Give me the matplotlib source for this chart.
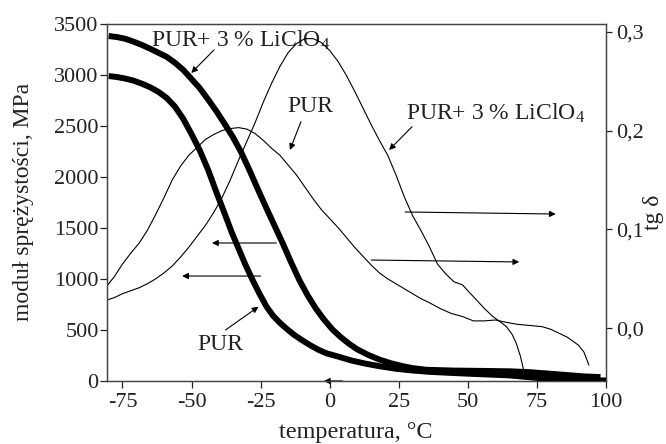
import matplotlib
matplotlib.use("Agg")
import matplotlib.pyplot as plt
from matplotlib.ticker import FuncFormatter, FixedLocator

plt.rcParams['font.family'] = ['Liberation Serif', 'DejaVu Serif']
plt.rcParams['mathtext.fontset'] = 'custom'
plt.rcParams['mathtext.rm'] = 'Liberation Serif'
plt.rcParams['mathtext.it'] = 'Liberation Serif:italic'

# ---- modulus data (left axis, MPa) ----
t_mod_pur = [-80, -77, -74, -71, -68, -65, -62, -59, -56, -53, -50, -47, -44, -41, -38, -35.5,
             -33, -30.5, -28, -25.5, -23, -20.5, -18, -15.5, -13, -10, -7, -4, -1, 3, 8, 13,
             18, 24, 30, 36, 45, 55, 65, 72, 80, 90, 100]
e_mod_pur = [2990, 2980, 2965, 2945, 2915, 2880, 2835, 2775, 2690, 2570, 2420, 2260, 2070, 1850, 1640, 1460,
             1300, 1140, 995, 860, 735, 640, 570, 510, 455, 400, 350, 305, 270, 240, 200, 170,
             145, 120, 103, 90, 78, 66, 55, 38, 18, 10, 5]

t_mod_li = [-80, -77, -74, -71, -68, -65, -62, -59, -56, -53, -50, -47, -44, -41, -38, -35,
            -32, -29, -26, -23, -20, -17, -14, -11, -8, -5, -2, 1, 4, 7, 10, 14, 18, 22,
            26, 30, 35, 45, 55, 65, 72, 78, 85, 92, 98]
e_mod_li = [3382, 3372, 3355, 3327, 3295, 3258, 3218, 3178, 3120, 3050, 2960, 2870, 2760, 2645, 2520, 2390,
            2240, 2065, 1880, 1700, 1525, 1350, 1165, 990, 840, 710, 600, 505, 430, 365, 310, 255, 210, 175,
            148, 126, 110, 102, 99, 95, 87, 75, 60, 45, 38]

# ---- tg delta data (right axis) ----
t_tan_pur = [-80.6, -78, -75, -72, -69, -66, -63, -60, -57, -54, -51, -48, -45, -42, -39, -36,
             -33, -30, -27, -24, -21, -18, -15, -12, -9, -6, -3, 0, 3, 6, 9, 12, 15, 18, 21,
             24, 27, 30, 33, 36, 40, 44, 48, 52, 56, 60, 64, 68, 72, 77, 80, 83, 86, 88, 90,
             92, 93.8]
v_tan_pur = [0.043, 0.052, 0.065, 0.076, 0.086, 0.099, 0.115, 0.132, 0.150, 0.164, 0.175, 0.183, 0.191, 0.196, 0.200, 0.202,
             0.203, 0.2015, 0.197, 0.190, 0.182, 0.175, 0.165, 0.155, 0.143, 0.131, 0.120, 0.111, 0.102, 0.092, 0.082, 0.073, 0.064, 0.056, 0.050,
             0.045, 0.040, 0.035, 0.030, 0.026, 0.020, 0.015, 0.012, 0.0075, 0.0075, 0.0084, 0.006, 0.004, 0.003, 0.0016, -0.001, -0.005, -0.009, -0.013, -0.017,
             -0.024, -0.037]

t_tan_li = [-80.6, -78, -75, -72, -69, -66, -63, -60, -57, -54, -51, -48, -45, -42, -39, -36,
            -33, -30, -27, -24, -21, -18, -15, -12, -9, -6, -3, 0, 3, 6, 9, 12, 15, 18, 21,
            24, 27, 30, 33, 36, 39, 42, 45, 48, 50, 53, 56, 59, 62, 64, 66, 67.5, 69, 70, 71]
v_tan_li = [0.0286, 0.031, 0.035, 0.038, 0.041, 0.045, 0.050, 0.056, 0.063, 0.072, 0.082, 0.093, 0.104, 0.117, 0.132, 0.150,
            0.170, 0.189, 0.208, 0.229, 0.248, 0.265, 0.279, 0.288, 0.293, 0.293, 0.289, 0.281, 0.270, 0.256, 0.240, 0.223, 0.206, 0.190, 0.175,
            0.155, 0.133, 0.114, 0.099, 0.083, 0.065, 0.055, 0.047, 0.044, 0.038, 0.029, 0.020, 0.012, 0.006, 0.0016, -0.006, -0.015, -0.028, -0.040, -0.050]

x_ticks = [-75, -50, -25, 0, 25, 50, 75, 100]
y1_ticks = [0, 500, 1000, 1500, 2000, 2500, 3000, 3500]
y2_ticks = [0.0, 0.1, 0.2, 0.3]

label_li = "PUR+ 3 % LiClO$_4$"
label_pur = "PUR"

fig = plt.figure(figsize=(6.66, 4.44), dpi=100)
ax1 = fig.add_axes([107/666, 1-381/444, (606-107)/666, (381-24)/444])
ax2 = ax1.twinx()

ax1.plot(t_mod_pur, e_mod_pur, color='black', lw=4.3, solid_capstyle='butt', solid_joinstyle='round', zorder=3)
ax1.plot(t_mod_li, e_mod_li, color='black', lw=4.3, solid_capstyle='butt', solid_joinstyle='round', zorder=3)
ax2.plot(t_tan_pur, v_tan_pur, color='black', lw=0.8)
ax2.plot(t_tan_li, v_tan_li, color='black', lw=0.8)

ax1.set_xlim(-80.6, 100)
ax1.set_ylim(0, 3500)
ax2.set_ylim(-0.0533, 0.3078)

ax1.xaxis.set_major_locator(FixedLocator(x_ticks))
ax1.yaxis.set_major_locator(FixedLocator(y1_ticks))
ax2.yaxis.set_major_locator(FixedLocator(y2_ticks))
ax2.yaxis.set_major_formatter(FuncFormatter(lambda v, p: f"{v:.1f}".replace('.', ',')))
ax1.xaxis.set_major_formatter(FuncFormatter(lambda v, p: f"{int(v)}"))

spine_col = '#444444'
for ax in (ax1, ax2):
    for s in ax.spines.values():
        s.set_color(spine_col)
        s.set_linewidth(0.9)
ax1.tick_params(axis='x', direction='out', length=5, width=0.9, pad=3.5, labelsize=16, colors='#222222')
ax1.tick_params(axis='y', direction='out', length=5, width=0.9, pad=1, labelsize=16, colors='#222222')
ax2.tick_params(axis='y', direction='out', length=4.5, width=0.9, pad=3, labelsize=16, colors='#222222')

fig.text(24/666, 1-202/444, "moduł sprężystości, MPa", rotation=90, ha='center', va='center', fontsize=17, color='#222222')
fig.text(653/666, 1-212/444, "tg δ", rotation=90, ha='center', va='center', fontsize=17, color='#222222')
fig.text(356/666, 1-432/444, "temperatura, °C", ha='center', va='center', fontsize=17.4, color='#222222')

txt_kw = dict(fontsize=17, color='#222222')
ax1.text(-64.5, 3277, label_li, ha='left', va='baseline', **txt_kw)
ax1.text(-7.1, 2696, label_pur, ha='center', va='center', **txt_kw)
ax1.text(27.7, 2559, label_li, ha='left', va='baseline', **txt_kw)
ax1.text(-39.4, 353, label_pur, ha='center', va='center', **txt_kw)

arr = dict(arrowstyle='-|>', color='black', lw=0.8, mutation_scale=9, shrinkA=0, shrinkB=0)
arrows = [
    ((-41.9, 3245), (-50.1, 3020)),
    ((-10.4, 2542), (-14.4, 2265)),
    ((29.8, 2493), (21.5, 2265)),
    ((-37.7, 500), (-25.8, 728)),
    ((-19.3, 1353), (-42.6, 1353)),
    ((-25.0, 1029), (-53.4, 1029)),
    ((15.1, 1186), (68.6, 1167)),
    ((27.3, 1657), (81.8, 1637)),
    ((4.7, 0), (-2.1, 0)),
]
for start, tip in arrows:
    ax1.annotate('', xy=tip, xytext=start, arrowprops=arr, annotation_clip=False, zorder=4)

fig.savefig("out.png", dpi=100)
